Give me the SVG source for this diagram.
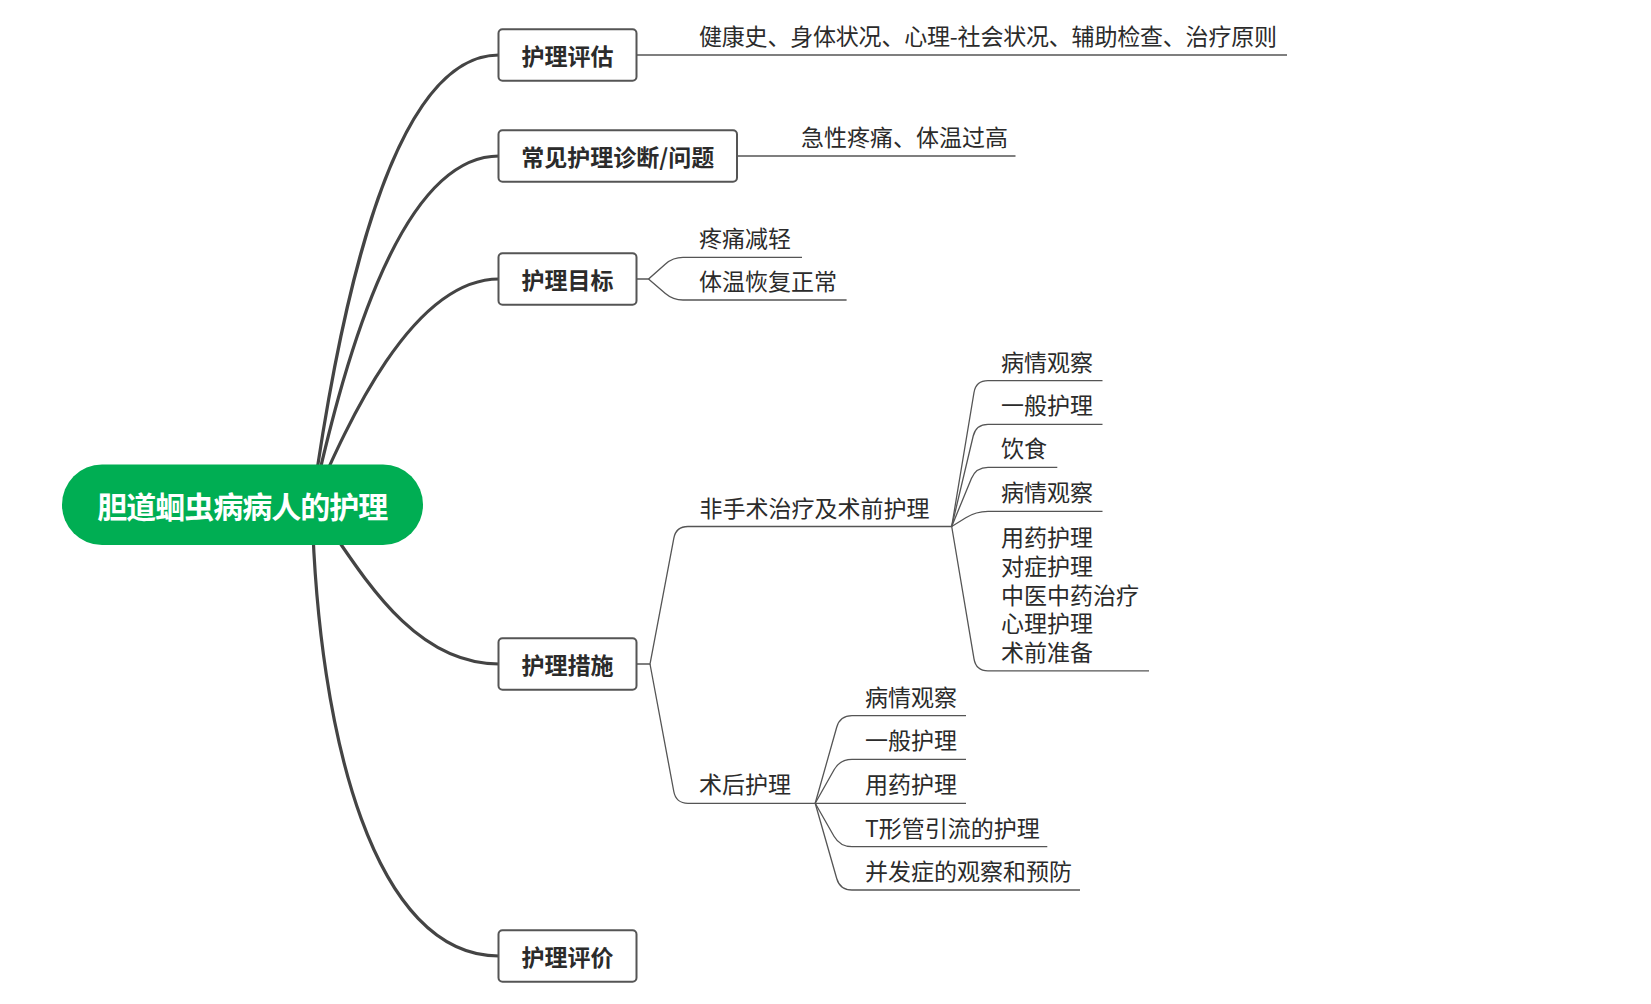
<svg xmlns="http://www.w3.org/2000/svg" width="1651" height="1004" viewBox="0 0 1651 1004">
<style>
.main{fill:none;stroke:#444;stroke-width:3.2;stroke-linecap:round}
.thin{fill:none;stroke:#555;stroke-width:1.3}
.box{fill:#fff;stroke:#555;stroke-width:2}
.lbl{font-family:"Noto Sans CJK SC","Microsoft YaHei",sans-serif;font-size:23px;font-weight:bold;fill:#2b2b2b;text-anchor:middle}
.txt{font-family:"Noto Sans CJK SC","Microsoft YaHei",sans-serif;font-size:23px;fill:#2b2b2b}
.root{font-family:"Noto Sans CJK SC","Microsoft YaHei",sans-serif;font-size:30px;font-weight:bold;fill:#fff;text-anchor:middle}
</style>
<rect width="1651" height="1004" fill="#fff"/>
<g id="connectors">
<path class="main" d="M312 505 C335 340,385 55,499 55"/>
<path class="main" d="M312 505 C340 380,395 156,499 156"/>
<path class="main" d="M312 505 C345 430,410 279,499 279"/>
<path class="main" d="M314 505 C360 570,410 664,499 664"/>
<path class="main" d="M312 505 C318 740,375 956,499 956"/>
<path class="thin" d="M636.5 55 H1287"/>
<path class="thin" d="M737 156 H1015.5"/>
<path class="thin" d="M636.5 279 H648.5 L665.5 263.9 Q673 257.3 683 257.3 H802"/>
<path class="thin" d="M648.5 279 L665.4 293.5 Q673 300 683 300 H846.6"/>
<path class="thin" d="M636.5 664 H650 L673.8 538.3 Q676 526.5 688 526.5 H951.7"/>
<path class="thin" d="M650 664 L673.8 791.5 Q676 803.3 688 803.3 H966"/>
<path class="thin" d="M951.7 526.5 L974 392.5 Q976 380.7 988 380.7 H1102.5"/>
<path class="thin" d="M951.7 526.5 L973.2 436 Q976 424.3 988 424.3 H1102.5"/>
<path class="thin" d="M951.7 526.5 L971.4 478.4 Q976 467.3 988 467.3 H1057.3"/>
<path class="thin" d="M951.7 526.5 L965.8 517.7 Q976 511.3 988 511.3 H1102.5"/>
<path class="thin" d="M951.7 526.5 L974 658.9 Q976 670.8 988 670.8 H1149"/>
<path class="thin" d="M815.2 803.3 L836.7 727.3 Q840 715.7 852 715.7 H966"/>
<path class="thin" d="M815.2 803.3 L834.1 769.8 Q840 759.3 852 759.3 H966"/>
<path class="thin" d="M815.2 803.3 L834 836.3 Q840 846.7 852 846.7 H1047.3"/>
<path class="thin" d="M815.2 803.3 L836.7 878.5 Q840 890 852 890 H1080"/>
</g>
<g id="root">
<rect x="62" y="464.5" width="361" height="80.5" rx="40" ry="40" fill="#00AE53"/>
<text class="root" x="242.8" y="518" textLength="291" lengthAdjust="spacing">胆道蛔虫病病人的护理</text>
</g>
<g id="n-pinggu">
<rect class="box" x="498.5" y="29.2" width="138" height="51.5" rx="4"/>
<text class="lbl" x="567.5" y="64.5">护理评估</text>
</g>
<g id="n-pinggu-c">
<text class="txt" x="699" y="45" textLength="578" lengthAdjust="spacing">健康史、身体状况、心理-社会状况、辅助检查、治疗原则</text>
</g>
<g id="n-zhenduan">
<rect class="box" x="498.5" y="130.2" width="238.5" height="51.5" rx="4"/>
<text class="lbl" x="617.8" y="165.5">常见护理诊断/问题</text>
</g>
<g id="n-zhenduan-c">
<text class="txt" x="801" y="146">急性疼痛、体温过高</text>
</g>
<g id="n-mubiao">
<rect class="box" x="498.5" y="253.3" width="138" height="51.5" rx="4"/>
<text class="lbl" x="567.5" y="288.5">护理目标</text>
</g>
<g id="n-mubiao-1"><text class="txt" x="699" y="247.3">疼痛减轻</text></g>
<g id="n-mubiao-2"><text class="txt" x="699" y="290">体温恢复正常</text></g>
<g id="n-cuoshi">
<rect class="box" x="498.5" y="638.3" width="138" height="51.5" rx="4"/>
<text class="lbl" x="567.5" y="673.5">护理措施</text>
</g>
<g id="n-feishoushu"><text class="txt" x="699.5" y="516.5">非手术治疗及术前护理</text></g>
<g id="n-fs-1"><text class="txt" x="1001" y="370.7">病情观察</text></g>
<g id="n-fs-2"><text class="txt" x="1001" y="414.3">一般护理</text></g>
<g id="n-fs-3"><text class="txt" x="1001" y="457.3">饮食</text></g>
<g id="n-fs-4"><text class="txt" x="1001" y="501.3">病情观察</text></g>
<g id="n-fs-5">
<text class="txt" x="1001" y="546.3">用药护理</text>
<text class="txt" x="1001" y="574.9">对症护理</text>
<text class="txt" x="1001" y="603.5">中医中药治疗</text>
<text class="txt" x="1001" y="632.1">心理护理</text>
<text class="txt" x="1001" y="660.8">术前准备</text>
</g>
<g id="n-shuhou"><text class="txt" x="699" y="793.3">术后护理</text></g>
<g id="n-sh-1"><text class="txt" x="865" y="705.7">病情观察</text></g>
<g id="n-sh-2"><text class="txt" x="865" y="749.3">一般护理</text></g>
<g id="n-sh-3"><text class="txt" x="865" y="793.3">用药护理</text></g>
<g id="n-sh-4"><text class="txt" x="865" y="836.7">T形管引流的护理</text></g>
<g id="n-sh-5"><text class="txt" x="865" y="880">并发症的观察和预防</text></g>
<g id="n-pingjia">
<rect class="box" x="498.5" y="930.2" width="138" height="51.5" rx="4"/>
<text class="lbl" x="567.5" y="965.5">护理评价</text>
</g>
</svg>
